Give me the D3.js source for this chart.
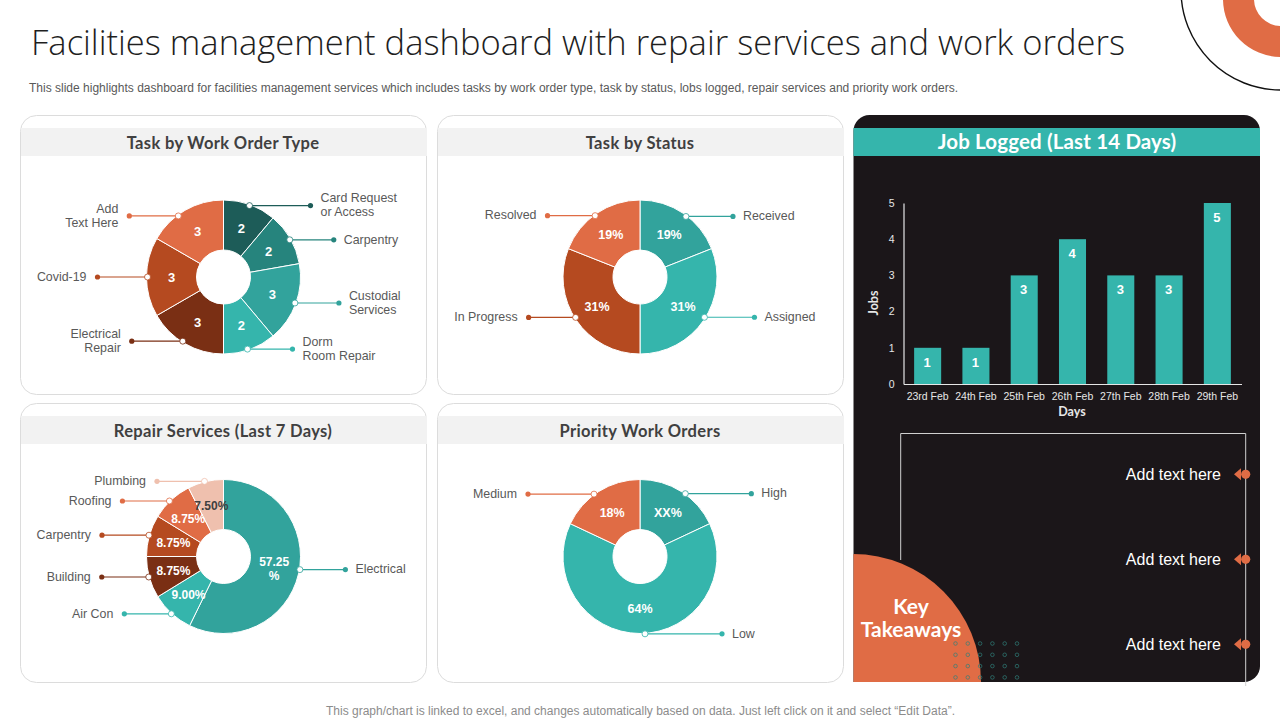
<!DOCTYPE html>
<html>
<head>
<meta charset="utf-8">
<script src="https://cdn.jsdelivr.net/npm/d3@7"></script>
<style>
  body { margin: 0; background: #fff; }
  svg { display: block; }
  text { font-family: "Liberation Sans", Arial, sans-serif; }
  .head { font-family: "Lato", sans-serif; font-weight: 700; }
</style>
</head>
<body>
<div id="chart"></div>
<script>
// values
const workTypes = ["Card Request\nor Access", "Carpentry", "Custodial\nServices", "Dorm\nRoom Repair", "Electrical\nRepair", "Covid-19", "Add\nText Here"];
const workValues = [2, 2, 3, 2, 3, 3, 3];
const workLabels = ["2", "2", "3", "2", "3", "3", "3"];

const statusNames = ["Received", "Assigned", "In Progress", "Resolved"];
const statusValues = [19, 31, 31, 19];
const statusLabels = ["19%", "31%", "31%", "19%"];

const repairNames = ["Electrical", "Air Con", "Building", "Carpentry", "Roofing", "Plumbing"];
const repairValues = [57.25, 9, 8.75, 8.75, 8.75, 7.5];
const repairLabels = ["57.25\n%", "9.00%", "8.75%", "8.75%", "8.75%", "7.50%"];

const priorityNames = ["High", "Low", "Medium"];
const priorityValues = [18, 64, 18];
const priorityLabels = ["XX%", "64%", "18%"];

const jobDays = ["23rd Feb", "24th Feb", "25th Feb", "26th Feb", "27th Feb", "28th Feb", "29th Feb"];
const jobCounts = [1, 1, 3, 4, 3, 3, 5];
const jobTicks = [0, 1, 2, 3, 4, 5];

const takeaways = ["Add text here", "Add text here", "Add text here"];

// colours
const darkTeal = "#1d5c58", midTeal = "#26847d", teal = "#32a39c", lightTeal = "#35b5ac";
const brown = "#7a2f14", rust = "#b54a20", orange = "#e06c45", peach = "#efc0ae";
const ink = "#1b1619";

const svg = d3.select("#chart").append("svg").attr("width", 1280).attr("height", 720);

// corner decoration
const ring = d3.arc().innerRadius(27).outerRadius(58).startAngle(0).endAngle(2 * Math.PI);
svg.append("path").attr("d", ring()).attr("transform", "translate(1281,-1)").attr("fill", orange);
svg.append("circle").attr("cx", 1281).attr("cy", -10).attr("r", 100)
   .attr("fill", "none").attr("stroke", "#111").attr("stroke-width", 1.4);

// heading
svg.append("text").attr("x", 31).attr("y", 55)
   .attr("textLength", 1094).attr("lengthAdjust", "spacingAndGlyphs")
   .style("font-family", "'Open Sans', sans-serif").attr("font-weight", 300)
   .attr("font-size", 34).attr("fill", "#1f1f1f")
   .text("Facilities management dashboard with repair services and work orders");
svg.append("text").attr("x", 29).attr("y", 92)
   .attr("textLength", 929).attr("font-size", 12).attr("fill", "#595959")
   .text("This slide highlights dashboard for facilities management services which includes tasks by work order type, task by status, lobs logged, repair services and priority work orders.");
svg.append("text").attr("x", 326).attr("y", 715)
   .attr("textLength", 629).attr("font-size", 12).attr("fill", "#8c8c8c")
   .text("This graph/chart is linked to excel, and changes automatically based on data. Just left click on it and select \u201cEdit Data\u201d.");

function drawPanel(x, y, title){
    svg.append("rect").attr("x", x + 0.5).attr("y", y + 0.5).attr("width", 406).attr("height", 279)
       .attr("rx", 16).attr("fill", "#fff").attr("stroke", "#dcdcdc").attr("stroke-width", 1);
    svg.append("rect").attr("x", x + 1).attr("y", y + 13).attr("width", 406).attr("height", 28).attr("fill", "#f2f2f2");
    svg.append("text").attr("class", "head").attr("x", x + 203).attr("y", y + 33.5)
       .attr("text-anchor", "middle").attr("font-size", 16.5).attr("letter-spacing", 0.35)
       .attr("fill", "#404040").text(title);
}

// nudge = degrees added to the slice middle for the leader's anchor,
// run = leader length, reach = anchor distance from the centre
function drawDonut(cx, cy, names, values, labels, colors, nudge, run, reach, valueSize, textColors){
    const g = svg.append("g").attr("transform", "translate(" + cx + "," + cy + ")");
    const pie = d3.pie().sort(null)(values);
    const arc = d3.arc().innerRadius(27).outerRadius(77);

    g.selectAll("path").data(pie).enter().append("path")
     .attr("d", arc).attr("fill", (d, i) => colors[i])
     .attr("stroke", "#fff").attr("stroke-width", 1);

    g.selectAll(".val").data(pie).enter().append("text")
     .attr("class", "val").attr("text-anchor", "middle")
     .attr("font-size", valueSize).attr("font-weight", "bold")
     .attr("fill", (d, i) => textColors ? textColors[i] : "#fff")
     .each(function(d, i){
         const c = arc.centroid(d);
         const parts = labels[i].split("\n");
         parts.forEach((p, k) => {
             d3.select(this).append("tspan").attr("x", c[0])
               .attr("y", c[1] + 4.5 + (k - (parts.length - 1) / 2) * 14).text(p);
         });
     });

    pie.forEach((d, i) => {
        const a = (d.startAngle + d.endAngle) / 2 + nudge[i] * Math.PI / 180;
        const ax = Math.sin(a) * reach, ay = -Math.cos(a) * reach;
        const dir = ax >= 0 ? 1 : -1;
        const ex = ax + dir * run[i];
        g.append("line").attr("x1", ax).attr("y1", ay).attr("x2", ex).attr("y2", ay)
         .attr("stroke", colors[i]).attr("stroke-width", 1.2);
        g.append("circle").attr("cx", ex).attr("cy", ay).attr("r", 2.6).attr("fill", colors[i]);
        g.append("circle").attr("cx", ax).attr("cy", ay).attr("r", 3)
         .attr("fill", "#fff").attr("stroke", colors[i]).attr("stroke-width", 0.8);
        const parts = names[i].split("\n");
        parts.forEach((p, k) => {
            g.append("text").attr("x", ex + dir * (dir > 0 ? 10 : 11))
             .attr("y", ay + 3.8 + (k - (parts.length - 1) / 2) * 14)
             .attr("text-anchor", dir > 0 ? "start" : "end")
             .attr("font-size", 12.4).attr("fill", "#595959").text(p);
        });
    });
}

drawPanel(20, 115, "Task by Work Order Type");
drawPanel(437, 115, "Task by Status");
drawPanel(20, 403, "Repair Services (Last 7 Days)");
drawPanel(437, 403, "Priority Work Orders");

drawDonut(223.5, 277, workTypes, workValues, workLabels,
    [darkTeal, midTeal, teal, lightTeal, brown, rust, orange],
    [0, 0.7, 0, 1.6, 2.4, 0, -6.5], [61, 44, 44, 45, 51, 50, 49], 76, 13);
drawDonut(640, 277, statusNames, statusValues, statusLabels,
    [teal, lightTeal, rust, orange],
    [3, -2.2, 2.1, -2], [47, 50, 47, 47.6], 76, 12.5);
drawDonut(223.5, 556.5, repairNames, repairValues, repairLabels,
    [teal, lightTeal, brown, rust, orange, peach],
    [-3.3, 0, 0.4, 0.2, -1.5, -0.7], [45.5, 47, 47, 47, 47, 47.5], 77.5, 12,
    ["#fff", "#fff", "#fff", "#fff", "#fff", "#404040"]);
drawDonut(640, 556.5, priorityNames, priorityValues, priorityLabels,
    [teal, lightTeal, orange],
    [3.4, -3.7, -4], [66, 77, 66], 77.5, 12.5);

// dark panel on the right
const side = d3.path();
side.moveTo(869.5, 115);
side.lineTo(1244, 115);
side.arcTo(1260, 115, 1260, 131, 16);
side.lineTo(1260, 666);
side.arcTo(1260, 682, 1244, 682, 16);
side.lineTo(853.5, 682);
side.lineTo(853.5, 131);
side.arcTo(853.5, 115, 869.5, 115, 16);
side.closePath();
svg.append("path").attr("d", side.toString()).attr("fill", ink);
svg.append("clipPath").attr("id", "sideClip").append("path").attr("d", side.toString());

svg.append("rect").attr("x", 853.5).attr("y", 128).attr("width", 406.5).attr("height", 28).attr("fill", lightTeal);
svg.append("text").attr("class", "head").attr("x", 1057).attr("y", 149)
   .attr("text-anchor", "middle").attr("font-size", 20.5).attr("letter-spacing", 0.15)
   .attr("fill", "#fff").text("Job Logged (Last 14 Days)");

// bar chart
const xScale = d3.scaleBand().domain(jobDays).range([903.5, 1241.5]).paddingInner(0.44).paddingOuter(0.22);
const yScale = d3.scaleLinear().domain([0, 5]).range([384, 203]);

const xAxis = svg.append("g").attr("transform", "translate(0,384)")
    .call(d3.axisBottom(xScale).tickSize(0).tickPadding(9));
const yAxis = svg.append("g").attr("transform", "translate(903.5,0)")
    .call(d3.axisLeft(yScale).tickValues(jobTicks).tickFormat(d3.format("d")).tickSize(0).tickPadding(9));
[xAxis, yAxis].forEach((a) => {
    a.select(".domain").attr("stroke", "#e6e6e6").attr("stroke-width", 1.2);
    a.selectAll("text").attr("fill", "#e6e6e6").attr("font-size", 10.5)
     .style("font-family", "'Liberation Sans', Arial, sans-serif");
});

svg.selectAll(".bar").data(jobCounts).enter().append("rect")
   .attr("class", "bar")
   .attr("x", (d, i) => xScale(jobDays[i]))
   .attr("y", (d) => yScale(d))
   .attr("width", xScale.bandwidth())
   .attr("height", (d) => 384 - yScale(d))
   .attr("fill", lightTeal);
svg.selectAll(".barLabel").data(jobCounts).enter().append("text")
   .attr("class", "barLabel").attr("text-anchor", "middle")
   .attr("x", (d, i) => xScale(jobDays[i]) + xScale.bandwidth() / 2 - 0.5)
   .attr("y", (d) => yScale(d) + 19)
   .attr("font-size", 13).attr("font-weight", "bold").attr("fill", "#fff")
   .text((d) => d);

svg.append("text").attr("class", "head").attr("x", 1072).attr("y", 416)
   .attr("text-anchor", "middle").attr("font-size", 12.5).attr("fill", "#e6e6e6").text("Days");
svg.append("text").attr("class", "head").attr("transform", "translate(877.5,303) rotate(-90)")
   .attr("text-anchor", "middle").attr("font-size", 12.5).attr("fill", "#e6e6e6").text("Jobs");

// key takeaways box
svg.append("path").attr("d", "M900.7,560V433.5H1245.7V686")
   .attr("fill", "none").attr("stroke", "#d0d0d0").attr("stroke-width", 1);

const rowY = d3.scalePoint().domain(d3.range(takeaways.length)).range([474.3, 644.3]);
takeaways.forEach((t, i) => {
    const y = rowY(i);
    svg.append("text").attr("x", 1221).attr("y", y + 6).attr("text-anchor", "end")
       .attr("font-size", 16).attr("fill", "#fff").text(t);
    svg.append("path").attr("d", "M1234," + y + "L1241,"  + (y - 6) + "V" + (y + 6) + "Z").attr("fill", orange);
    svg.append("circle").attr("cx", 1245.7).attr("cy", y).attr("r", 4.6).attr("fill", orange);
});

const clipped = svg.append("g").attr("clip-path", "url(#sideClip)");
clipped.append("circle").attr("cx", 853).attr("cy", 682).attr("r", 128).attr("fill", orange);
d3.range(6).forEach((c) => {
    d3.range(4).forEach((r) => {
        clipped.append("circle").attr("cx", 955.5 + c * 12.3).attr("cy", 643.5 + r * 11.3).attr("r", 1.8)
           .attr("fill", "none").attr("stroke", "#2f7f7a").attr("stroke-width", 0.7);
    });
});

svg.append("text").attr("class", "head").attr("x", 911).attr("y", 614)
   .attr("text-anchor", "middle").attr("font-size", 21).attr("fill", "#fff").text("Key");
svg.append("text").attr("class", "head").attr("x", 911).attr("y", 637)
   .attr("text-anchor", "middle").attr("font-size", 21).attr("fill", "#fff").text("Takeaways");
</script>
</body>
</html>
